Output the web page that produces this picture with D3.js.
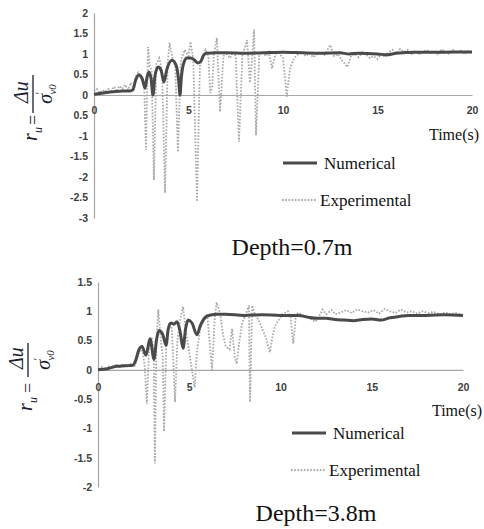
<!DOCTYPE html>
<html>
<head>
<meta charset="utf-8">
<script src="https://cdn.jsdelivr.net/npm/d3@7"></script>
<style>
  html, body { margin: 0; padding: 0; background: #fff; }
  svg { display: block; }
</style>
</head>
<body>
<svg id="chart" width="484" height="529"></svg>
<script>
// ---- shared axis values ----
const timeTicks = [0, 5, 10, 15, 20];
const timeLabels = ["0", "5", "10", "15", "20"];

// ---- Depth = 0.7 m ----
const topYTicks = [2, 1.5, 1, 0.5, 0, -0.5, -1, -1.5, -2, -2.5, -3];
const topYLabels = ["2", "1.5", "1", "0.5", "0", "0.5", "-1", "-1.5", "-2", "-2.5", "-3"];

const topNumT = [0, 0.5, 1, 1.5, 1.9, 2.06, 2.2, 2.38, 2.55, 2.7, 2.8, 2.9, 3.02, 3.12, 3.22, 3.39, 3.55, 3.7,
  3.85, 4.13, 4.35, 4.48, 4.55, 4.62, 4.75, 4.92, 5.1, 5.3, 5.5, 5.65, 5.8, 5.96, 6.5, 7, 8, 9, 10, 11, 12,
  13, 13.5, 14, 15, 15.5, 16, 17, 18, 19, 20];
const topNumV = [0.02, 0.05, 0.08, 0.1, 0.1, 0.13, 0.36, 0.49, 0.4, 0.17, 0.42, 0.56, 0.4, 0.0, 0.45, 0.68, 0.6, 0.32,
  0.62, 0.85, 0.72, 0.35, 0.0, 0.42, 0.78, 0.9, 0.9, 0.86, 0.78, 0.82, 0.97, 1.02, 1.03, 1.03, 1.02, 1.03, 1.04, 1.03, 1.02,
  1.03, 1.0, 1.02, 1.0, 0.98, 1.02, 1.04, 1.04, 1.05, 1.05];

const topExpT = [0, 0.15, 0.3, 0.45, 0.6, 0.75, 0.9, 1.05, 1.2, 1.35, 1.5, 1.65, 1.8, 1.95, 2.1, 2.2, 2.35, 2.5, 2.65,
  2.75, 2.86, 2.95, 3.05, 3.17, 3.3, 3.45, 3.6, 3.76, 3.9, 4.0, 4.15, 4.3, 4.44, 4.6, 4.8, 5.0, 5.1, 5.25, 5.45,
  5.6, 5.75, 5.9, 6.05, 6.15, 6.25, 6.35, 6.5, 6.67, 6.85, 7.0, 7.2, 7.35, 7.5, 7.67, 7.85, 8.1, 8.25, 8.35, 8.47,
  8.57, 8.75, 8.9, 9.1, 9.25, 9.42, 9.6, 9.8, 10.0, 10.2, 10.3, 10.4, 10.6, 10.8, 11.0, 11.2, 11.4, 11.6, 11.8,
  12.0, 12.2, 12.5, 12.7, 12.9, 13.1, 13.3, 13.4, 13.6, 13.8, 14.0, 14.2, 14.4, 14.6, 14.8, 15.0, 15.2, 15.4, 15.6,
  15.8, 16.0, 16.2, 16.4, 16.6, 16.8, 17.0, 17.2, 17.4, 17.6, 17.8, 18.0, 18.2, 18.4, 18.6, 18.8, 19.0, 19.2,
  19.4, 19.6, 19.8, 20.0];
const topExpV = [0.1, 0.15, 0.05, 0.12, 0.08, 0.15, 0.1, 0.2, 0.12, 0.22, 0.15, 0.25, 0.12, 0.3, 0.15, 0.45, 0.55, 0.4, 0.3,
  -1.34, 1.17, 0.7, 0.6, -2.07, 0.75, 0.9, 0.6, -2.39, 0.8, 1.27, 0.9, 0.7, -1.39, 0.85, 1.1, 0.95, 1.3, 0.9, -2.6,
  0.7, 0.9, 1.1, 0.95, 0.05, 0.2, 1.0, 1.39, -0.41, 0.95, 1.0, 0.9, 1.05, 0.95, -1.14, 0.95, 1.34, 0.3, 0.8, 1.6,
  -0.98, 1.0, 1.05, 0.95, 1.05, 0.65, 1.0, 1.02, 0.9, -0.04, 0.4, 0.7, 0.9, 1.0, 1.05, 0.95, 1.02, 0.92, 1.0,
  1.05, 0.98, 1.22, 0.95, 1.0, 0.85, 0.75, 0.68, 0.95, 1.0, 0.92, 1.05, 0.98, 0.9, 0.95, 0.88, 1.0, 0.92, 1.05,
  1.1, 1.02, 1.12, 1.05, 1.1, 1.0, 1.08, 1.0, 1.05, 1.1, 1.02, 1.08, 0.98, 1.12, 1.05, 1.0, 1.1, 1.02,
  1.08, 1.0, 1.06, 1.04];

// ---- Depth = 3.8 m ----
const botYTicks = [1.5, 1, 0.5, 0, -0.5, -1, -1.5, -2];
const botYLabels = ["1.5", "1", "0.5", "0", "-0.5", "-1", "-1.5", "-2"];

const botNumT = [0, 0.5, 1, 1.5, 1.9, 2.05, 2.25, 2.41, 2.63, 2.85, 3.07, 3.2, 3.34, 3.55, 3.73, 3.85, 4.0, 4.15,
  4.33, 4.5, 4.66, 4.8, 4.93, 5.15, 5.42, 5.6, 5.97, 6.5, 7, 8, 9, 10, 11, 11.5, 12, 12.5, 13, 13.5, 14, 14.5,
  15, 15.5, 16, 16.5, 17, 18, 19, 20];
const botNumV = [0, 0.02, 0.06, 0.07, 0.08, 0.15, 0.35, 0.4, 0.25, 0.53, 0.18, 0.5, 0.67, 0.6, 0.42, 0.7, 0.8, 0.78,
  0.82, 0.65, 0.37, 0.7, 0.85, 0.8, 0.6, 0.75, 0.92, 0.95, 0.95, 0.93, 0.94, 0.93, 0.93, 0.9, 0.88, 0.88, 0.86, 0.85, 0.84, 0.86,
  0.87, 0.85, 0.89, 0.91, 0.93, 0.93, 0.94, 0.93];

const botExpT = [0, 0.2, 0.4, 0.6, 0.8, 1.0, 1.2, 1.4, 1.6, 1.8, 2.0, 2.15, 2.3, 2.45, 2.55, 2.68, 2.8, 2.95, 3.05,
  3.12, 3.2, 3.3, 3.45, 3.55, 3.62, 3.75, 3.9, 4.05, 4.22, 4.35, 4.5, 4.66, 4.8, 4.95, 5.05, 5.3, 5.42, 5.6, 5.8,
  6.0, 6.25, 6.4, 6.5, 6.7, 6.85, 7.0, 7.2, 7.35, 7.5, 7.6, 7.75, 7.9, 8.1, 8.27, 8.33, 8.45, 8.6, 8.8, 9.0, 9.2,
  9.42, 9.55, 9.7, 9.9, 10.1, 10.4, 10.55, 10.7, 10.85, 11.0, 11.3, 11.6, 11.9, 12.1, 12.3, 12.5, 12.8, 13.0,
  13.3, 13.6, 13.9, 14.2, 14.5, 14.8, 15.1, 15.4, 15.7, 16.0, 16.3, 16.6, 16.9, 17.2, 17.5, 17.8, 18.1, 18.4,
  18.7, 19.0, 19.3, 19.6, 20.0];
const botExpV = [0.02, 0.05, 0.0, 0.06, 0.03, 0.08, 0.05, 0.1, 0.06, 0.1, 0.05, 0.2, 0.35, 0.3, 0.1, -0.58, 0.4, 0.55, 0.3,
  -1.6, 0.5, 1.03, 0.5, 0.2, -1.05, 0.5, 0.8, 0.7, -0.55, 0.5, 0.85, 1.08, 0.7, 0.4, 0.2, -0.3, 0.3, 0.7, 0.85,
  0.9, 0.0, 0.9, 1.15, 0.95, 0.6, 0.4, 0.35, 0.7, 0.2, 0.1, 0.5, 0.8, 0.95, 1.1, -0.55, 1.1, 0.95, 0.85, 0.7, 0.55,
  0.3, 0.55, 0.75, 0.85, 0.95, 1.0, 0.9, 0.45, 0.95, 0.98, 0.9, 0.88, 0.82, 0.9, 1.03, 0.95, 1.02, 0.95,
  0.98, 1.02, 0.97, 1.03, 1.0, 0.98, 1.02, 0.96, 1.04, 1.0, 0.97, 1.03, 0.98, 1.0, 0.96, 1.0, 0.97, 0.99,
  0.95, 0.98, 0.95, 0.97, 0.94];

const legendNames = ["Numerical", "Experimental"];

const svg = d3.select("#chart");
svg.append("rect").attr("width", 484).attr("height", 529).attr("fill", "#fff");

const serif = "'Liberation Serif', 'Times New Roman', serif";
const tickFont = "'Liberation Sans', Arial, sans-serif";

function zip(ts, vs) { return ts.map((t, i) => ({ t, v: vs[i] })); }

function drawPanel(p) {
  const g = svg.append("g");
  const x = d3.scaleLinear().domain([0, 20]).range([p.x0, p.x1]);
  const y = d3.scaleLinear().domain(p.yDomain).range([p.yBottom, p.yTop]);

  // y axis
  const ya = g.append("g").attr("transform", `translate(${p.x0},0)`)
    .call(d3.axisLeft(y).tickValues(p.yTicks).tickFormat((d, i) => p.yLabels[i])
      .tickSize(0).tickSizeOuter(0).tickPadding(6));
  ya.select(".domain").attr("stroke", "#a6a6a6").attr("stroke-width", 1.2);
  ya.selectAll("text").attr("font-family", tickFont).attr("font-size", 10.5)
    .attr("font-weight", "bold").attr("fill", "#404040");

  // x axis along zero
  const xa = g.append("g").attr("transform", `translate(0,${y(0)})`)
    .call(d3.axisBottom(x).tickValues(timeTicks).tickFormat((d, i) => timeLabels[i])
      .tickSize(0).tickSizeOuter(0).tickPadding(p.xPad));
  xa.select(".domain").attr("stroke", "#a6a6a6").attr("stroke-width", 1.2);
  xa.selectAll("text").attr("font-family", tickFont).attr("font-size", 10.5)
    .attr("font-weight", "bold").attr("fill", "#404040");

  const line = d3.line().x(d => x(d.t)).y(d => y(d.v));

  // experimental record (dotted)
  g.append("path").datum(zip(p.expT, p.expV))
    .attr("d", line.curve(d3.curveLinear))
    .attr("fill", "none").attr("stroke", "#a8a8a8").attr("stroke-width", 1.8)
    .attr("stroke-dasharray", "1.6,1.6");

  // numerical response (thick)
  g.append("path").datum(zip(p.numT, p.numV))
    .attr("d", line.curve(d3.curveMonotoneX))
    .attr("fill", "none").attr("stroke", "#4a4a4a").attr("stroke-width", 3)
    .attr("stroke-linejoin", "round");

  // axis title
  g.append("text").attr("x", p.timeX).attr("y", p.timeY).attr("text-anchor", "middle")
    .attr("font-family", serif).attr("font-size", 16).attr("fill", "#111").text("Time(s)");

  // legend
  const lg = g.append("g");
  lg.append("line").attr("x1", p.legX).attr("x2", p.legX + 34).attr("y1", p.legY1).attr("y2", p.legY1)
    .attr("stroke", "#4a4a4a").attr("stroke-width", 3);
  lg.append("text").attr("x", p.legX + 41).attr("y", p.legY1 + 5.5)
    .attr("font-family", serif).attr("font-size", 17).attr("fill", "#111").text(legendNames[0]);
  lg.append("line").attr("x1", p.legX - 1).attr("x2", p.legX + 33).attr("y1", p.legY2).attr("y2", p.legY2)
    .attr("stroke", "#a8a8a8").attr("stroke-width", 1.8).attr("stroke-dasharray", "1.6,1.6");
  lg.append("text").attr("x", p.legX + 37).attr("y", p.legY2 + 5.5)
    .attr("font-family", serif).attr("font-size", 17).attr("fill", "#111").text(legendNames[1]);

  // caption
  g.append("text").attr("x", p.capX).attr("y", p.capY).attr("text-anchor", "middle")
    .attr("font-family", serif).attr("font-size", 24).attr("fill", "#111").text(p.caption);

  // y label: r_u = Δu / σ'_v0, rotated
  const f = g.append("g").attr("transform", `translate(${p.fx},${p.fy}) rotate(-90)`)
    .attr("font-family", serif).attr("fill", "#1c1c30");
  f.append("line").attr("x1", -p.barHalf).attr("x2", p.barHalf).attr("y1", 0).attr("y2", 0)
    .attr("stroke", "#1c1c30").attr("stroke-width", 1.3);
  f.append("text").attr("x", 2).attr("y", -5).attr("text-anchor", "middle")
    .attr("font-size", 20).attr("font-style", "italic").text("Δu");
  const den = f.append("text").attr("x", 0).attr("y", p.denY).attr("text-anchor", "middle")
    .attr("font-size", 20).attr("font-style", "italic");
  den.append("tspan").text("σ");
  den.append("tspan").attr("font-size", 11).attr("dy", -9).attr("dx", -1).text("'");
  den.append("tspan").attr("font-size", 11).attr("dy", 13).attr("dx", -2).text("v0");
  f.append("text").attr("x", p.eqX).attr("y", 6).attr("text-anchor", "middle")
    .attr("font-size", 18).text("=");
  const ru = f.append("text").attr("x", p.ruX).attr("y", 4).attr("text-anchor", "middle")
    .attr("font-size", 20).attr("font-style", "italic");
  ru.append("tspan").text("r");
  ru.append("tspan").attr("font-size", 12).attr("dy", 5).text("u");
}

drawPanel({
  x0: 94, x1: 472, yDomain: [-3, 2], yBottom: 218, yTop: 13,
  yTicks: topYTicks, yLabels: topYLabels, xPad: 12,
  numT: topNumT, numV: topNumV, expT: topExpT, expV: topExpV,
  timeX: 454, timeY: 140, legX: 283, legY1: 163, legY2: 200,
  capX: 292, capY: 255, caption: "Depth=0.7m",
  fx: 33, fy: 94, barHalf: 19, denY: 19, eqX: -26, ruX: -40
});

drawPanel({
  x0: 98, x1: 463, yDomain: [-2, 1.5], yBottom: 487, yTop: 282,
  yTicks: botYTicks, yLabels: botYLabels, xPad: 14,
  numT: botNumT, numV: botNumV, expT: botExpT, expV: botExpV,
  timeX: 457, timeY: 416, legX: 292, legY1: 433, legY2: 470,
  capX: 316, capY: 521, caption: "Depth=3.8m",
  fx: 28, fy: 360, barHalf: 17, denY: 22, eqX: -28, ruX: -44
});
</script>
</body>
</html>
